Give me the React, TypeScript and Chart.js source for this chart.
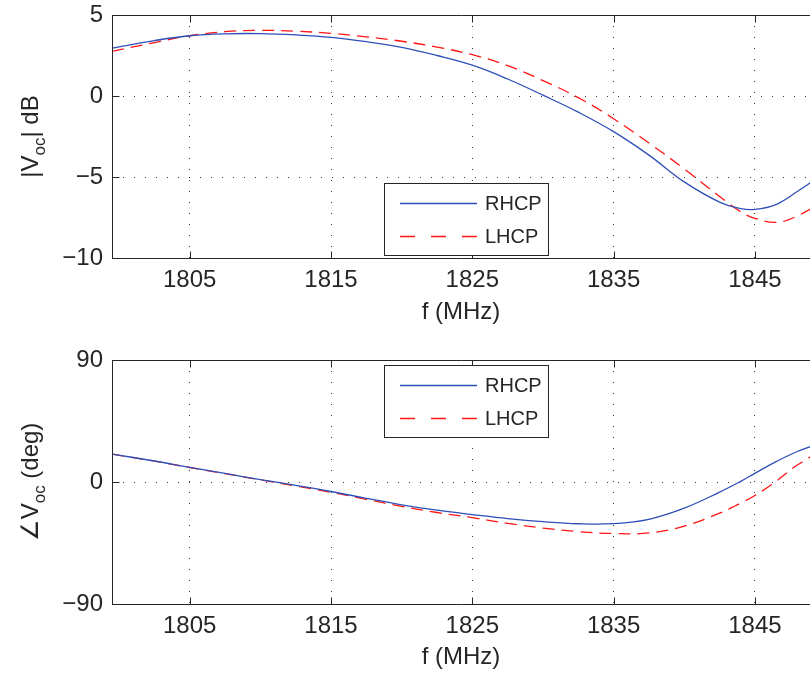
import React, { useEffect, useRef } from 'react';
import { Chart, registerables } from 'chart.js';

Chart.register(...registerables);

// ---------- data ----------
const freqMHz = [
  1799.5, 1802.5, 1805, 1807.5, 1810, 1812.5, 1815, 1817.5, 1820, 1822.5, 1825, 1827.5,
  1830, 1832.5, 1835, 1837.5, 1840, 1842.5, 1844, 1845, 1846.5, 1848, 1850,
];
const magRHCP = [
  2.95, 3.42, 3.72, 3.84, 3.85, 3.77, 3.62, 3.35, 3.0, 2.5, 1.9, 1.05,
  0.05, -1.0, -2.2, -3.65, -5.3, -6.55, -6.95, -7.0, -6.7, -5.9, -4.7,
];
const magLHCP = [
  2.75, 3.3, 3.72, 3.97, 4.05, 4.0, 3.87, 3.65, 3.38, 3.02, 2.55, 1.88,
  0.95, -0.1, -1.4, -2.9, -4.5, -6.2, -7.15, -7.55, -7.8, -7.4, -6.4,
];
const phaseRHCP = [
  20.6, 15.5, 10.8, 6.3, 1.8, -2.5, -7, -12, -16.8, -20.8, -24, -27,
  -29.3, -30.8, -30.7, -27.5, -19.3, -7.5, 0.5, 6.4, 15, 22.5, 30,
];
const phaseLHCP = [
  20.6, 15.4, 10.7, 6.1, 1.5, -2.9, -7.6, -12.8, -18, -22.5, -26.3, -30.5,
  -34, -36.6, -38, -37.6, -32.5, -23, -15.5, -10, 0.5, 12.5, 25,
];
const seriesLabels = ['RHCP', 'LHCP'];
const xTicks = [1805, 1815, 1825, 1835, 1845];
const xTickLabels = ['1805', '1815', '1825', '1835', '1845'];
const magTicks = [-10, -5, 0, 5];
const magTickLabels = ['\u221210', '\u22125', '0', '5'];
const phaseTicks = [-90, 0, 90];
const phaseTickLabels = ['\u221290', '0', '90'];
const xLabel = 'f (MHz)';
const magTitle = ['|V', 'oc', '| dB'];
const phaseTitle = ['\u2220V', 'oc', ' (deg)'];

// ---------- style ----------
const X_MIN = 1799.5;
const X_MAX = 1848.9;
const INK = '#262626';
const FONT = '"Liberation Sans", Arial, Helvetica, sans-serif';
const BLUE = '#2d4fb8';
const RED = '#ff1414';

type PanelProps = {
  a: number[];
  b: number[];
  yMin: number;
  yMax: number;
  yTicks: number[];
  yTickLabels: string[];
  title: string[];
  legendAt: 'top' | 'bottom';
  height: number;
  padTop: number;
  xAxisHeight: number;
};

function Panel(p: PanelProps) {
  const ref = useRef<HTMLCanvasElement>(null);

  useEffect(() => {
    const canvas = ref.current!;

    const deco = {
      id: 'matlabDeco',
      afterDatasetsDraw(chart: any) {
        const { ctx, chartArea: a, scales } = chart;
        ctx.save();
        ctx.setLineDash([]);
        ctx.strokeStyle = INK;
        ctx.lineWidth = 1;
        const L = Math.round(a.left) + 0.5;
        const T = Math.round(a.top) + 0.5;
        const B = Math.round(a.bottom) + 0.5;
        const R = a.right + 2;
        ctx.beginPath();
        ctx.moveTo(R, T);
        ctx.lineTo(L, T);
        ctx.lineTo(L, B);
        ctx.lineTo(R, B);
        ctx.stroke();
        // inward tick marks
        ctx.beginPath();
        for (const v of xTicks) {
          const px = Math.round(scales.x.getPixelForValue(v)) + 0.5;
          ctx.moveTo(px, B);
          ctx.lineTo(px, B - 7);
          ctx.moveTo(px, T);
          ctx.lineTo(px, T + 7);
        }
        for (const v of p.yTicks) {
          const py = Math.round(scales.y.getPixelForValue(v)) + 0.5;
          ctx.moveTo(L, py);
          ctx.lineTo(L + 7, py);
        }
        ctx.stroke();

        // legend
        const bw = 164;
        const bh = 72;
        const bx = Math.round(a.left + 272);
        const by = Math.round(p.legendAt === 'bottom' ? a.bottom - 3 - bh : a.top + 5);
        ctx.fillStyle = '#ffffff';
        ctx.fillRect(bx, by, bw, bh);
        ctx.strokeStyle = INK;
        ctx.lineWidth = 1;
        ctx.strokeRect(bx + 0.5, by + 0.5, bw, bh);
        chart.data.datasets.forEach((ds: any, i: number) => {
          const cy = by + 20.5 + i * 33;
          ctx.save();
          ctx.strokeStyle = ds.borderColor;
          ctx.lineWidth = 1.3;
          ctx.setLineDash(ds.borderDash && ds.borderDash.length ? [15, 16] : []);
          ctx.beginPath();
          ctx.moveTo(bx + 16, cy);
          ctx.lineTo(bx + 93, cy);
          ctx.stroke();
          ctx.restore();
          ctx.fillStyle = INK;
          ctx.font = `20px ${FONT}`;
          ctx.textBaseline = 'middle';
          ctx.textAlign = 'left';
          ctx.fillText(ds.label, bx + 101, cy + 1);
        });

        // y-axis title with subscript
        const [t1, sub, t2] = p.title;
        const mainFont = `24px ${FONT}`;
        const subFont = `17px ${FONT}`;
        ctx.font = mainFont;
        const w1 = ctx.measureText(t1).width;
        const w3 = ctx.measureText(t2).width;
        ctx.font = subFont;
        const w2 = ctx.measureText(sub).width;
        const total = w1 + w2 + w3;
        const cy = (a.top + a.bottom) / 2;
        ctx.translate(38, cy);
        ctx.rotate(-Math.PI / 2);
        ctx.fillStyle = INK;
        ctx.textBaseline = 'alphabetic';
        ctx.textAlign = 'left';
        let x = -total / 2;
        ctx.font = mainFont;
        ctx.fillText(t1, x, 0);
        x += w1;
        ctx.font = subFont;
        ctx.fillText(sub, x, 7);
        x += w2;
        ctx.font = mainFont;
        ctx.fillText(t2, x, 0);
        ctx.restore();
      },
    };

    const chart = new Chart(canvas, {
      type: 'line',
      data: {
        datasets: [
          {
            label: seriesLabels[0],
            data: freqMHz.map((f, i) => ({ x: f, y: p.a[i] })),
            borderColor: BLUE,
            borderWidth: 1.3,
            pointRadius: 0,
            tension: 0.4,
            fill: false,
          },
          {
            label: seriesLabels[1],
            data: freqMHz.map((f, i) => ({ x: f, y: p.b[i] })),
            borderColor: RED,
            borderWidth: 1.3,
            borderDash: [12, 7],
            pointRadius: 0,
            tension: 0.4,
            fill: false,
          },
        ],
      },
      options: {
        animation: false,
        responsive: false,
        devicePixelRatio: 1,
        layout: { padding: { top: p.padTop, left: 0, right: 0, bottom: 0 } },
        plugins: {
          legend: { display: false },
          tooltip: { enabled: false },
        },
        scales: {
          x: {
            type: 'linear',
            min: X_MIN,
            max: X_MAX,
            afterBuildTicks: (s: any) => {
              s.ticks = xTicks.map((v) => ({ value: v }));
            },
            afterFit: (s: any) => {
              s.height = p.xAxisHeight;
              s.paddingLeft = 0;
              s.paddingRight = 0;
            },
            grid: { color: '#3a3a3a', lineWidth: 1, drawTicks: false },
            border: { display: false, dash: [1, 10] },
            ticks: {
              color: INK,
              font: { size: 24, family: FONT },
              padding: 8,
              maxRotation: 0,
              autoSkip: false,
              callback: (_v: any, i: number) => xTickLabels[i],
            },
            title: {
              display: true,
              text: xLabel,
              color: INK,
              font: { size: 24, family: FONT },
              padding: { top: 0, bottom: 3.6 },
            },
          },
          y: {
            type: 'linear',
            min: p.yMin,
            max: p.yMax,
            afterBuildTicks: (s: any) => {
              s.ticks = p.yTicks.map((v) => ({ value: v }));
            },
            afterFit: (s: any) => {
              s.width = 112;
              s.paddingTop = 0;
              s.paddingBottom = 0;
            },
            grid: { color: '#3a3a3a', lineWidth: 1, drawTicks: false },
            border: { display: false, dash: [1, 10] },
            ticks: {
              color: INK,
              font: { size: 24, family: FONT },
              padding: 9,
              callback: (_v: any, i: number) => p.yTickLabels[i],
            },
          },
        },
      },
      plugins: [deco],
    } as any);

    return () => chart.destroy();
  }, []);

  return <canvas ref={ref} width={810} height={p.height} style={{ display: 'block' }} />;
}

export default function App() {
  return (
    <div
      style={{
        position: 'absolute',
        left: 0,
        top: 0,
        width: 810,
        height: 675,
        overflow: 'hidden',
        background: '#ffffff',
      }}
    >
      <Panel
        a={magRHCP}
        b={magLHCP}
        yMin={-10}
        yMax={5}
        yTicks={magTicks}
        yTickLabels={magTickLabels}
        title={magTitle}
        legendAt="bottom"
        height={330}
        padTop={15}
        xAxisHeight={72}
      />
      <Panel
        a={phaseRHCP}
        b={phaseLHCP}
        yMin={-90}
        yMax={90}
        yTicks={phaseTicks}
        yTickLabels={phaseTickLabels}
        title={phaseTitle}
        legendAt="top"
        height={345}
        padTop={30}
        xAxisHeight={71}
      />
    </div>
  );
}
